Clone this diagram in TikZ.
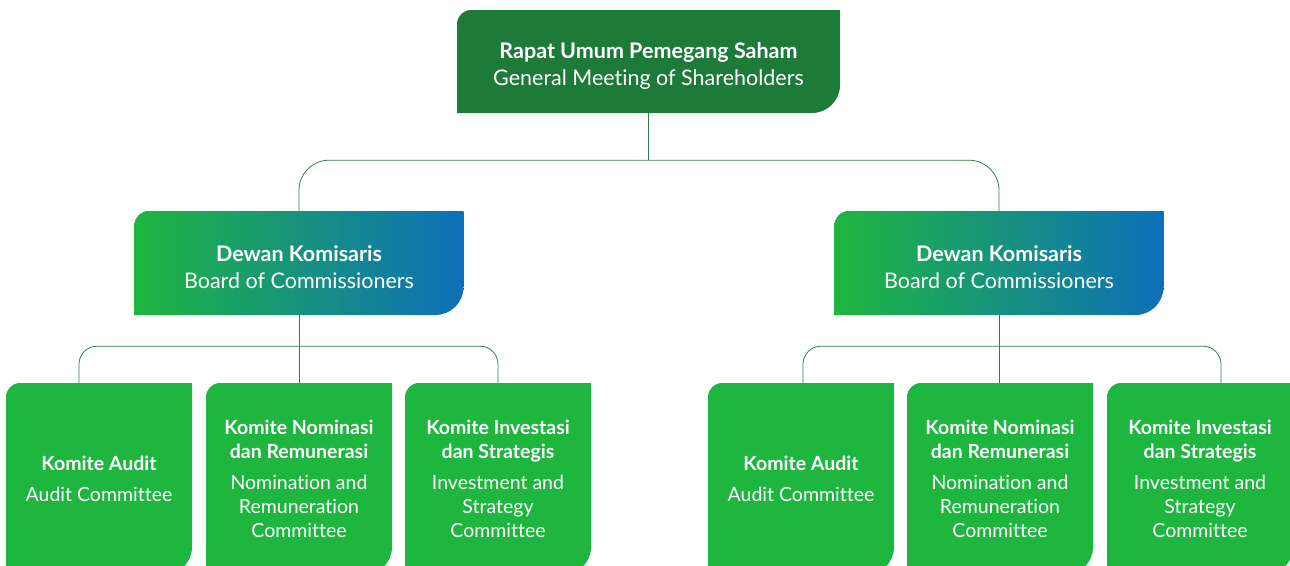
\documentclass[tikz,border=0pt]{standalone}
\usepackage{fontspec}
\setmainfont{Lato}[Ligatures=NoCommon]

\definecolor{gmsgreen}{HTML}{1E7A38}
\definecolor{leafgreen}{HTML}{1FB640}
\definecolor{bocblue}{HTML}{0E6FBA}
\definecolor{linkgreen}{HTML}{2E7D4C}

% leaf outline: round top left, round bottom right
\newcommand{\leafpath}{(path picture bounding box.south west)
  -- ([yshift=-14pt]path picture bounding box.north west)
  arc[start angle=180,end angle=90,radius=14pt]
  -- (path picture bounding box.north east)
  -- ([yshift=28pt]path picture bounding box.south east)
  arc[start angle=0,end angle=-90,radius=28pt] -- cycle}

\tikzset{
  leaf fill/.style={path picture={\fill[#1] \leafpath;}},
  leaf shade/.style={path picture={\shade[left color=leafgreen,right color=bocblue] \leafpath;}},
  topbox/.style={leaf fill=gmsgreen, minimum width=383pt, minimum height=103pt,
    inner sep=0pt, align=center, text=white, text height=52pt,
    font=\fontsize{21.5}{27.5}\selectfont},
  bocbox/.style={leaf shade, minimum width=329pt, minimum height=104pt,
    inner sep=0pt, align=center, text=white, text height=52pt,
    font=\fontsize{21.5}{27.5}\selectfont},
  combox/.style={leaf fill=leafgreen, minimum width=186pt, minimum height=192pt,
    inner sep=0pt, align=center, text=white, font=\fontsize{19.5}{24}\selectfont},
  link/.style={linkgreen, line width=0.8pt}
}

\begin{document}
\begin{tikzpicture}[x=1pt,y=1pt]
	\useasboundingbox (0,0) rectangle (1290,-565);

	\node[topbox] (gms) at (648.5,-61.5) {\bfseries Rapat Umum Pemegang Saham\\General Meeting of Shareholders};

	\node[bocbox] (boc1) at (299,-263) {\bfseries Dewan Komisaris\\Board of Commissioners};
	\node[bocbox] (boc2) at (999,-263) {\bfseries Dewan Komisaris\\Board of Commissioners};

	\node[combox] (ka1) at (99,-479) {\bfseries Komite Audit\\[7pt]Audit Committee};
	\node[combox] (knr1) at (299,-479) {\bfseries Komite Nominasi\\\bfseries dan Remunerasi\\[7pt]Nomination and\\Remuneration\\Committee};
	\node[combox] (kis1) at (498,-479) {\bfseries Komite Investasi\\\bfseries dan Strategis\\[7pt]Investment and\\Strategy\\Committee};

	\node[combox] (ka2) at (801,-479) {\bfseries Komite Audit\\[7pt]Audit Committee};
	\node[combox] (knr2) at (1000,-479) {\bfseries Komite Nominasi\\\bfseries dan Remunerasi\\[7pt]Nomination and\\Remuneration\\Committee};
	\node[combox] (kis2) at (1200,-479) {\bfseries Komite Investasi\\\bfseries dan Strategis\\[7pt]Investment and\\Strategy\\Committee};

	% links
	\draw[link] (gms.south) -- ++(0,-47) coordinate (j0);
	\draw[link, rounded corners=30pt] (boc1.north) |- (j0) -| (boc2.north);

	\coordinate (j1) at ([yshift=-31pt]boc1.south);
	\draw[link] (boc1.south) -- (boc1.south |- knr1.north);
	\draw[link, rounded corners=18pt] ([xshift=-20pt]ka1.north) |- (j1) -| (kis1.north);

	\coordinate (j2) at ([yshift=-31pt]boc2.south);
	\draw[link] (boc2.south) -- (boc2.south |- knr2.north);
	\draw[link, rounded corners=18pt] ([xshift=2pt]ka2.north) |- (j2) -| ([xshift=21pt]kis2.north);
\end{tikzpicture}
\end{document}
